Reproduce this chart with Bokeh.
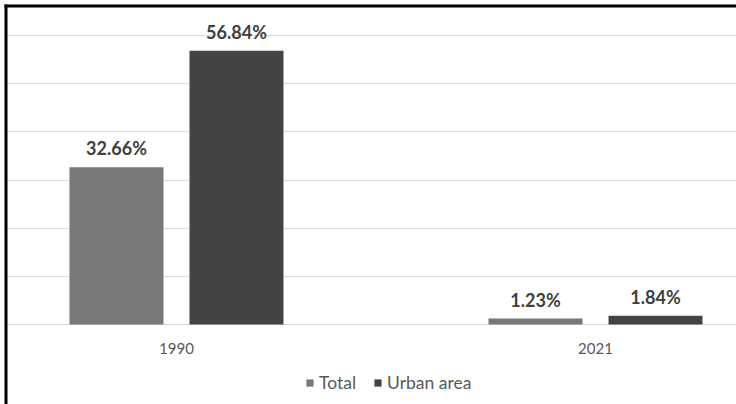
from bokeh.plotting import figure
from bokeh.models import (ColumnDataSource, Range1d, FixedTicker, Legend, LegendItem,
                          BoxAnnotation)
from bokeh.transform import dodge
from bokeh.core.properties import value
from bokeh.embed import file_html
from bokeh.resources import INLINE

# ---- data ----
years = ["1990", "2021"]
series = ["Total", "Urban area"]
total = [32.66, 1.23]
urban = [56.84, 1.84]
colors = ["#777777", "#434343"]

FONT = "Lato"

xc = list(range(len(years)))
src = ColumnDataSource(dict(
    xc=xc, total=total, urban=urban, zero=[0] * len(years), year=years,
    total_lbl=[f"{v:.2f}%" for v in total],
    urban_lbl=[f"{v:.2f}%" for v in urban],
))

p = figure(width=736, height=404, output_backend="svg", toolbar_location=None,
           x_range=Range1d(-0.4200, 1.3365), y_range=Range1d(-16.61, 67.27),
           x_axis_location=None, y_axis_location=None,
           min_border=0, min_border_left=0, min_border_top=0, min_border_right=0,
           min_border_bottom=0)
p.outline_line_color = None
p.background_fill_color = "white"
p.border_fill_color = "white"

p.xgrid.visible = False
p.ygrid.ticker = FixedTicker(ticks=[0, 10, 20, 30, 40, 50, 60])
p.ygrid.grid_line_color = "#d9d9d9"

off = 0.1432
bw = 0.2243
r1 = p.vbar(x=dodge("xc", -off, range=p.x_range), top="total", bottom=0, width=bw,
            source=src, fill_color=colors[0], line_color=None)
r2 = p.vbar(x=dodge("xc", off, range=p.x_range), top="urban", bottom=0, width=bw,
            source=src, fill_color=colors[1], line_color=None)

for key, o, ycol in (("total_lbl", -off, "total"), ("urban_lbl", off, "urban")):
    p.text(x=dodge("xc", o, range=p.x_range), y=ycol, text=key, source=src,
           text_align="center", text_baseline="alphabetic", y_offset=-19,
           text_font=value(FONT), text_font_style="bold", text_font_size="18px",
           text_color="#404040")

# category labels (x axis)
p.text(x="xc", y="zero", text="year", source=src, text_align="center",
       text_baseline="middle", y_offset=24, text_font=value(FONT),
       text_font_size="15px", text_color="#595959")

legend = Legend(items=[LegendItem(label=series[0], renderers=[r1]),
                       LegendItem(label=series[1], renderers=[r2])],
                orientation="horizontal", location=(305, 11),
                border_line_color=None, background_fill_alpha=0,
                label_text_font=FONT, label_text_font_size="17.5px",
                label_text_color="#595959", glyph_width=9, glyph_height=9,
                label_standoff=5, spacing=17, padding=0, margin=0)
p.add_layout(legend, "center")

# chart border (left and top), white outside it
for l, r, t, b, c in ((0, 4, 0, 404, "white"), (0, 736, 0, 4, "white"),
                      (4, 7, 4, 404, "black"), (4, 736, 4, 7, "black")):
    p.add_layout(BoxAnnotation(left=l, right=r, top=t, bottom=b,
                               left_units="canvas", right_units="canvas",
                               top_units="canvas", bottom_units="canvas",
                               fill_color=c, fill_alpha=1, line_alpha=0,
                               level="overlay"))

open("out.html", "w").write(file_html(p, INLINE))
